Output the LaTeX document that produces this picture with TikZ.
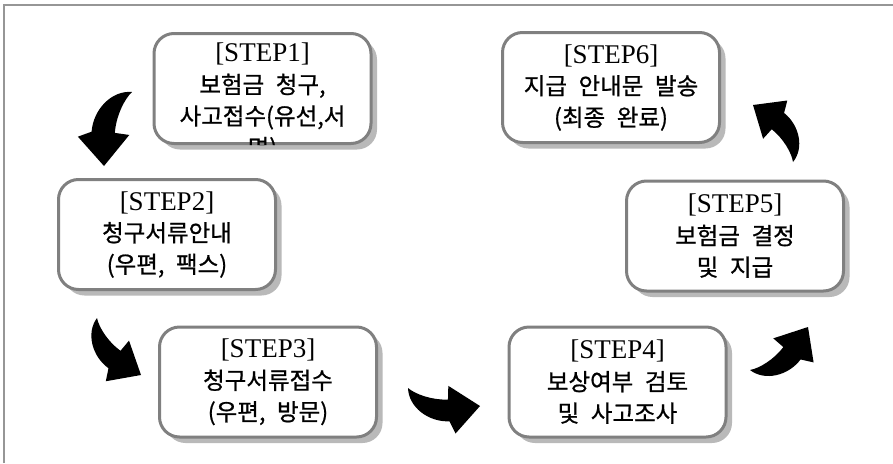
\documentclass[tikz,border=0pt]{standalone}
\usepackage{fontspec}
\setmainfont{Liberation Serif}
\newfontfamily\kr[WordSpace=2.2, FakeBold=0.8]{Noto Sans CJK KR}
\usetikzlibrary{calc,shadows}
\definecolor{boxline}{RGB}{128,128,128}
\definecolor{boxshade}{RGB}{185,185,185}
\definecolor{framegray}{RGB}{150,150,150}
\newcommand{\arpt}[2]{($(\tikztostart)!#1!(\tikztotarget)+(\tikztostart)!#2!-90:(\tikztotarget)-(\tikztostart)$)}
\newcommand{\steptag}[1]{{\rmfamily\fontsize{27}{31.5}\selectfont[STEP#1]}}
\tikzset{
    stepbox/.style={
        draw=boxline,
        line width=3pt,
        fill=white,
        rounded corners=20pt,
        minimum width=217pt,
        minimum height=110pt,
        drop shadow={fill=boxshade, opacity=1, shadow xshift=6pt, shadow yshift=-6pt}
    },
    steptext/.style={
        align=center,
        inner sep=0pt,
        font=\kr\fontsize{23.5}{31.5}\selectfont
    },
    turnarrow/.style={
        fill=black,
        to path={
            .. controls \arpt{.07}{.25} and \arpt{.38}{.38} .. \arpt{.65}{.30}
            -- \arpt{.77}{.44} -- (\tikztotarget) -- \arpt{.52}{-.16} -- \arpt{.56}{.02}
            .. controls \arpt{.36}{.08} and \arpt{.12}{.06} .. (\tikztostart) -- cycle
        }
    }
}

\begin{document}
\begin{tikzpicture}[x=1pt, y=-1pt]
    \useasboundingbox (0,0) rectangle (893,463);
    % Frame
    \draw[framegray, line width=2pt] (4,463) -- (4,4.5) -- (893,4.5);

    % Steps
    \node[stepbox] (s1) at (262.5,88.5) {};
    \begin{scope}
        \clip[rounded corners=20pt] (s1.south west) rectangle (s1.north east);
        \node[steptext] (t1) at (262.5,102) {\steptag{1}\\보험금 청구,\\사고접수(유선,서\\면)};
    \end{scope}
    \node[stepbox, steptext] (s2) at (167,234.5) {\steptag{2}\\청구서류안내\\(우편, 팩스)};
    \node[stepbox, steptext] (s3) at (268,382) {\steptag{3}\\청구서류접수\\(우편, 방문)};
    \node[stepbox, steptext] (s4) at (617.5,382) {\steptag{4}\\보상여부 검토\\및 사고조사};
    \node[stepbox, steptext] (s5) at (735,236) {\steptag{5}\\보험금 결정\\및 지급};
    \node[stepbox, steptext] (s6) at (611,87.5) {\steptag{6}\\지급 안내문 발송\\(최종 완료)};

    % Arrows (tail, head)
    \coordinate (t12) at (132,92);   \coordinate (h12) at (104,166);
    \coordinate (t23) at (97,318);   \coordinate (h23) at (141,375);
    \coordinate (t34) at (408,388);  \coordinate (h34) at (480,406);
    \coordinate (t45) at (750,370);  \coordinate (h45) at (808,327);
    \coordinate (t56) at (793,162);  \coordinate (h56) at (753,105);
    \fill (t12) to[turnarrow] (h12);
    \fill (t23) to[turnarrow] (h23);
    \fill (t34) to[turnarrow] (h34);
    \fill (t45) to[turnarrow] (h45);
    \fill (t56) to[turnarrow] (h56);
\end{tikzpicture}
\end{document}
